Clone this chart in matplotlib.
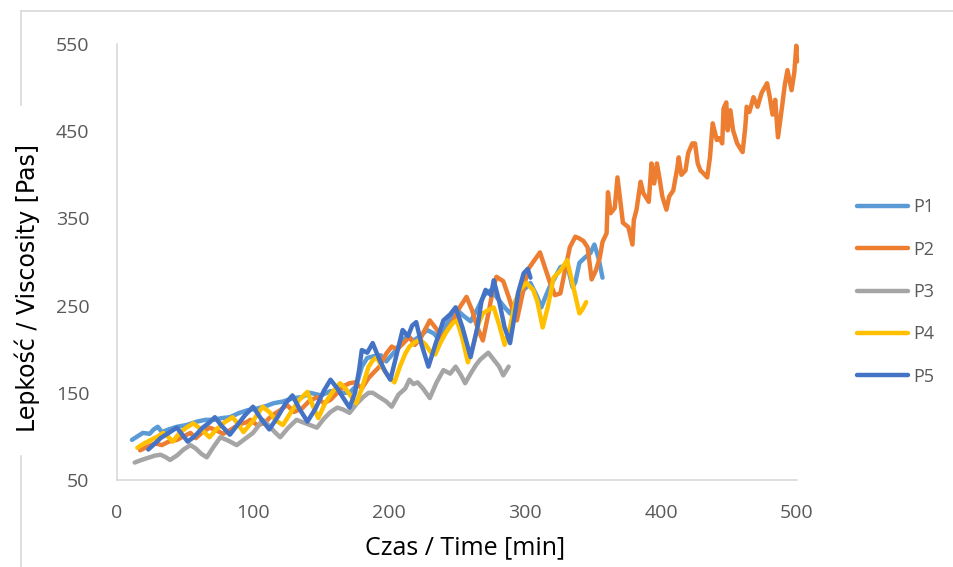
import numpy as np
import matplotlib
matplotlib.use('Agg')
import matplotlib.pyplot as plt
from matplotlib.lines import Line2D

# ---------------- data ----------------
p1_t = [11, 15, 19, 24, 27, 30, 33, 38, 44, 51, 59, 65, 71, 77, 83, 90, 96, 103, 110, 115,
        122, 130, 136, 142, 150, 157, 163, 171, 176, 180, 184, 189, 194, 198, 203, 208, 213,
        218, 223, 228, 233, 237, 241, 246, 250, 255, 260, 265, 270, 275, 280, 285, 289, 293,
        297, 301, 304, 309, 312, 315, 318, 322, 326, 331, 335, 337, 340, 344, 348, 351, 354, 357]
p1_v = [96, 100, 104, 103, 108, 111, 105, 108, 111, 113, 117, 119, 119, 121, 122, 127, 130, 132,
        135, 138, 140, 144, 145, 150, 147, 152, 150, 150, 158, 180, 190, 192, 193, 186, 195, 205,
        215, 210, 215, 222, 218, 211, 225, 238, 245, 238, 232, 246, 262, 268, 258, 248, 241, 255,
        265, 271, 276, 260, 248, 260, 271, 282, 294, 297, 271, 277, 299, 305, 310, 320, 305, 282]

p2_t = [17, 22, 28, 33, 38, 44, 49, 54, 58, 63, 68, 73, 78, 84, 90, 95, 98, 103, 108, 114, 120,
        125, 130, 136, 141, 147, 152, 157, 162, 167, 171, 175, 180, 185, 188, 193, 198, 202, 206,
        210, 215, 219, 223, 227, 230, 234, 239, 243, 248, 252, 257, 261, 265, 269, 273, 276, 279,
        284, 288, 291, 294, 298, 302, 306, 311, 315, 318, 322, 326, 330, 333, 337, 340, 343, 346,
        349, 352, 355, 357, 360, 361, 363, 366, 368, 370, 372, 376, 379, 380, 382, 385, 387, 391,
        393, 395, 397, 399, 401, 404, 406, 409, 412, 413, 415, 418, 420, 423, 425, 427, 429, 431,
        434, 436, 438, 441, 443, 445, 446, 448, 449, 451, 453, 456, 460, 462, 463, 465, 468, 471,
        474, 478, 480, 482, 484, 486, 489, 491, 493, 496, 498, 499.5, 500]
p2_v = [84, 88, 92, 90, 94, 96, 100, 104, 98, 105, 110, 107, 103, 108, 114, 116, 119, 113, 115,
        124, 130, 136, 128, 132, 140, 145, 138, 142, 150, 158, 161, 162, 155, 167, 172, 180, 195,
        203, 200, 206, 214, 205, 212, 224, 233, 225, 214, 222, 235, 248, 260, 245, 225, 210, 240,
        265, 283, 278, 260, 245, 233, 262, 291, 300, 311, 292, 278, 262, 264, 295, 317, 329, 327,
        324, 317, 280, 290, 305, 323, 333, 380, 356, 362, 397, 371, 345, 340, 320, 348, 360, 392,
        379, 369, 413, 390, 413, 395, 375, 360, 375, 382, 408, 420, 400, 405, 425, 436, 436, 413,
        405, 402, 397, 420, 459, 440, 442, 436, 476, 483, 451, 474, 451, 436, 426, 455, 478, 472,
        489, 478, 494, 505, 489, 469, 486, 443, 478, 503, 520, 497, 517, 548, 530]

p3_t = [13, 18, 24, 28, 32, 36, 39, 44, 49, 54, 58, 62, 66, 71, 76, 82, 88, 94, 100, 104, 107,
        112, 116, 120, 126, 132, 137, 142, 147, 152, 157, 162, 166, 171, 176, 181, 185, 188, 193,
        198, 202, 207, 212, 215, 218, 221, 225, 230, 235, 240, 245, 249, 253, 256, 260, 264, 267,
        270, 273, 277, 281, 284, 286, 288]
p3_v = [70, 73, 76, 78, 79, 76, 73, 78, 85, 90, 86, 80, 76, 88, 99, 95, 90, 97, 104, 112, 119,
        112, 105, 99, 110, 119, 116, 113, 110, 120, 128, 133, 131, 127, 137, 145, 150, 150, 145,
        140, 134, 148, 155, 165, 160, 162, 155, 144, 162, 176, 172, 180, 170, 161, 172, 182, 188,
        192, 196, 188, 180, 170, 175, 180]

p4_t = [15, 20, 25, 30, 34, 38, 41, 46, 51, 56, 62, 68, 73, 79, 85, 89, 93, 100, 107, 112, 117,
        122, 128, 134, 140, 144, 148, 153, 158, 164, 168, 172, 176, 180, 185, 188, 191, 194, 199,
        204, 208, 212, 215, 219, 223, 227, 231, 234, 238, 243, 247, 250, 254, 258, 262, 266, 269,
        273, 277, 281, 285, 289, 293, 296, 301, 306, 309, 313, 317, 321, 326, 331, 335, 340, 342, 345]
p4_v = [87, 92, 96, 100, 104, 99, 94, 104, 110, 115, 108, 99, 108, 116, 122, 114, 105, 118, 134,
        128, 118, 113, 128, 142, 151, 135, 121, 138, 150, 161, 155, 146, 138, 155, 180, 187, 191,
        182, 170, 162, 180, 195, 203, 208, 211, 205, 196, 194, 208, 222, 230, 233, 212, 185, 205,
        230, 241, 245, 248, 228, 205, 225, 255, 268, 276, 268, 255, 225, 250, 282, 290, 302, 275,
        241, 245, 254]

p5_t = [23, 28, 32, 38, 44, 48, 52, 57, 63, 68, 72, 77, 83, 88, 94, 100, 106, 112, 118, 124, 129,
        134, 140, 146, 152, 157, 162, 166, 171, 175, 178, 180, 184, 188, 193, 197, 201, 205, 210,
        214, 217, 220, 224, 229, 234, 240, 245, 249, 254, 260, 265, 268, 271, 275, 277, 281, 285,
        289, 292, 295, 299, 302, 304]
p5_v = [85, 92, 98, 104, 110, 102, 94, 100, 110, 116, 122, 112, 102, 112, 124, 134, 120, 108, 122,
        138, 147, 132, 117, 132, 152, 165, 155, 145, 133, 150, 176, 199, 196, 207, 188, 175, 165,
        190, 222, 215, 227, 231, 205, 180, 205, 233, 240, 248, 225, 191, 225, 255, 268, 262, 279,
        255, 225, 207, 235, 265, 287, 292, 282]

series_names = ['P1', 'P2', 'P3', 'P4', 'P5']
series_colors = ['#5B9BD5', '#ED7D31', '#A5A5A5', '#FFC000', '#4472C4']
x_ticks = [0, 100, 200, 300, 400, 500]
y_ticks = [50, 150, 250, 350, 450, 550]

# ---------------- figure ----------------
fig = plt.figure(figsize=(9.54, 5.67), dpi=100)
ax = fig.add_axes([117/954, 1 - 480/567, 680/954, 436/567])

series = [(p1_t, p1_v), (p2_t, p2_v), (p3_t, p3_v), (p4_t, p4_v), (p5_t, p5_v)]
for (t, v), name, col in zip(series, series_names, series_colors):
    ax.plot(t, v, color=col, lw=3.2, label=name, solid_capstyle='round',
            solid_joinstyle='round', clip_on=False)

ax.set_xlim(0, 500); ax.set_ylim(50, 550)
ax.set_xticks(x_ticks); ax.set_yticks(y_ticks)
for s in ['top', 'right']:
    ax.spines[s].set_visible(False)
for s in ['left', 'bottom']:
    ax.spines[s].set_color('#D9D9D9'); ax.spines[s].set_linewidth(1.2)
ax.tick_params(length=0, labelsize=14, labelcolor='#595959')
ax.tick_params(axis='y', pad=20)
ax.tick_params(axis='x', pad=17)
for lab in ax.get_xticklabels() + ax.get_yticklabels():
    lab.set_fontfamily('Open Sans')

fig.text(465/954, 1 - 548/567, 'Czas / Time [min]', ha='center', va='center',
         fontsize=18, family='Open Sans', color='black')
fig.text(27/954, 1 - 288/567, 'Lepkość / Viscosity [Pas]', ha='center', va='center',
         rotation=90, fontsize=17, family='DejaVu Sans', color='black')

leg = fig.legend(loc='center left', bbox_to_anchor=(857/954, 0.485), frameon=False,
                 handlelength=2.8, handletextpad=0.3, labelspacing=1.35,
                 borderaxespad=0, borderpad=0,
                 prop={'family': 'Open Sans', 'size': 13})
for txt in leg.get_texts():
    txt.set_color('#595959')

# chart-area border, partly hidden behind the axis title
frame_col = '#D9D9D9'
fig.add_artist(Line2D([21/954, 21/954], [1 - 11/567, 1 - 105/567], color=frame_col, lw=1.2))
fig.add_artist(Line2D([21/954, 21/954], [1 - 456/567, 0], color=frame_col, lw=1.2))
fig.add_artist(Line2D([21/954, 1], [1 - 11/567, 1 - 11/567], color=frame_col, lw=1.2))

fig.savefig('out.png', dpi=100)
